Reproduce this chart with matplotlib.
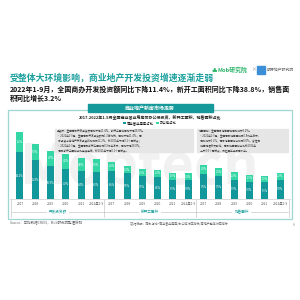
import numpy as np
import matplotlib.pyplot as plt
from matplotlib.patches import Rectangle

plt.rcParams['font.family'] = ['Noto Sans CJK SC', 'DejaVu Sans']

years = ["2017", "2018", "2019", "2020", "2021", "2022年1-9"]
groups = ["开发投资额", "新开工面积", "销售面积"]
# 商业营业用房占比 (bottom) / 办公楼占比 (top), per group
shop = [14.2, 11.8, 10.0, 9.2, 8.4, 8.3,
        8.6, 7.8, 7.0, 6.8, 5.9, 5.8,
        7.6, 7.0, 5.9, 5.3, 5.1, 5.8]
office = [6.2, 5.0, 4.7, 4.6, 4.0, 3.9,
          2.6, 2.3, 2.1, 2.0, 1.9, 2.0,
          2.8, 2.5, 2.2, 1.9, 1.9, 2.2]

TEAL = "#12979a"
GREEN = "#34d6a6"
TITLE = "#1a9f9c"

fig = plt.figure(figsize=(3, 3), dpi=100)
fig.patch.set_facecolor("white")

def fy(px):
    return 1 - px / 300

def fx(px):
    return px / 300

# header texts
fig.text(fx(10), fy(78), "受整体大环境影响，商业地产开发投资增速逐渐走弱",
         color=TITLE, fontsize=6.4, fontweight="bold", va="center")
fig.text(fx(10), fy(94), "2022年1-9月，全国商办开发投资额同比下降11.4%，新开工面积同比下降38.8%，销售面\n积同比增长3.2%",
         color="#111111", fontsize=5.0, fontweight="bold", va="center", linespacing=1.25)
fig.text(fx(212), fy(70), "♣", color="#2db56a", fontsize=4, va="center")
fig.text(fx(218), fy(70), "Mob研究院", color="#2db56a", fontsize=4.2, fontweight="bold", va="center")
fig.text(fx(251), fy(70), "×", color="#888888", fontsize=3.5, va="center")
fig.add_artist(Rectangle((fx(257), fy(74)), fx(8), 8 / 300, color="#3c8fd6"))
fig.text(fx(267), fy(70), "明源地产研究院", color="#666666", fontsize=2.8, va="center")

# outer box and tab
fig.add_artist(Rectangle((fx(8), fy(219)), fx(284), 109 / 300, fill=False,
                         edgecolor="#9fd6d2", lw=0.9))
fig.add_artist(Rectangle((fx(88), fy(112)), fx(125), 8 / 300, color="#15999a"))
fig.text(fx(150), fy(108), "商业地产新房市场走势", color="white", fontsize=3.6,
         fontweight="bold", ha="center", va="center")
fig.text(fx(150), fy(117.5), "2017-2022年1-9月全国商业营业用房及办公楼投资、新开工面积、销售面积占比",
         color="#222222", fontsize=2.9, fontweight="bold", ha="center", va="center")

# watermark, behind everything
fig.text(fx(20), fy(168), "Mobtech", color="#f1f1f1", fontsize=40, fontstyle="italic",
         fontweight="bold", va="center", zorder=-5)

ax = fig.add_axes([fx(10), fy(199), fx(280), 74 / 300])
ax.patch.set_visible(False)
x = np.arange(len(shop))
ax.bar(x, shop, width=0.46, color=TEAL, zorder=2, label="商业营业用房占比")
ax.bar(x, office, width=0.46, bottom=shop, color=GREEN, zorder=2, label="办公楼占比")
for xi, s, o in zip(x, shop, office):
    ax.text(xi, s / 2, f"{s:.1f}%", color="white", fontsize=1.9, ha="center", va="center", zorder=3)
    ax.text(xi, s + o / 2, f"{o:.1f}%", color="white", fontsize=1.9, ha="center", va="center", zorder=3)
ax.set_xlim(-0.65, 17.65)
ax.set_ylim(0, 22.5)
ax.set_xticks(x)
ax.set_xticklabels(years * 3, fontsize=2.3, color="#555555")
ax.tick_params(axis="x", length=0, pad=2.5)
ax.set_yticks([])
for s in ["top", "left", "right"]:
    ax.spines[s].set_visible(False)
ax.spines["bottom"].set_color("#cccccc")
ax.spines["bottom"].set_linewidth(0.5)

tr = ax.get_xaxis_transform()
for sep in [-0.6, 5.5, 11.5, 17.6]:
    ax.plot([sep, sep], [0, -0.24], transform=tr, color="#bbbbbb", lw=0.4, clip_on=False)
for gi, g in enumerate(groups):
    lo, hi = gi * 6 - 0.5, gi * 6 + 5.5
    ax.plot([lo, hi], [-0.18, -0.18], transform=tr, color="#bbbbbb", lw=0.4, clip_on=False)
    ax.text((lo + hi) / 2, -0.18, g, transform=tr, color=TITLE, fontsize=2.6, ha="center",
            va="center", bbox=dict(facecolor="white", edgecolor="none", pad=1.5))

ax.legend(loc="center", bbox_to_anchor=(fx(150), fy(123)), bbox_transform=fig.transFigure,
          ncol=2, fontsize=2.4, frameon=False, handlelength=0.7, handleheight=0.7,
          handletextpad=0.3, columnspacing=0.8)

# grey note boxes
fig.add_artist(Rectangle((fx(55), fy(152)), fx(138), 23 / 300, color="#e6e6e6", zorder=4))
fig.add_artist(Rectangle((fx(197), fy(152)), fx(91), 23 / 300, color="#e6e6e6", zorder=4))
note1 = ("投资额：全国商办开发投资额同比下降11.4%，新开工面积同比下降38.8%。\n"
         "• 2022年1-9月，全国商办开发投资额为1.3万亿元，同比下降11.4%，商\n"
         "  办投资占房地产开发投资的比例为12.2%，较2021年下降0.2个百分点；\n"
         "• 2022年1-9月，全国商办新开工面积为0.9亿平方米，同比下降38.8%，\n"
         "  商办新开工面积占比持续走低，较2021年下降0.1个百分点。")
note2 = ("销售面积：全国商办销售面积同比增长3.2%。\n"
         "• 2022年1-9月，全国商办销售面积为0.8亿平方米，\n"
         "  同比增长3.2%，商办销售面积占比为8.0%，受住宅\n"
         "  销售降幅较大影响，商办销售面积占比较2021年\n"
         "  上升1.0个百分点，为近四年来最高水平。")
fig.text(fx(57), fy(140.5), note1, fontsize=1.9, color="#333333", va="center",
         linespacing=1.3, zorder=5)
fig.text(fx(199), fy(140.5), note2, fontsize=1.9, color="#333333", va="center",
         linespacing=1.3, zorder=5)

# footer
fig.text(fx(10), fy(223), "Source：中指数据CREIS，Mob研究院整理绘制", fontsize=2.5,
         color="#666666", va="center")
fig.text(fx(130), fy(223), "*数据说明：商办占比=商业营业用房/办公楼对应指标/房地产整体对应指标", fontsize=2.2,
         color="#666666", va="center")
fig.text(fx(293), fy(225), "8", fontsize=2.5, color="#999999", va="center")

fig.savefig("out.png", dpi=100)
